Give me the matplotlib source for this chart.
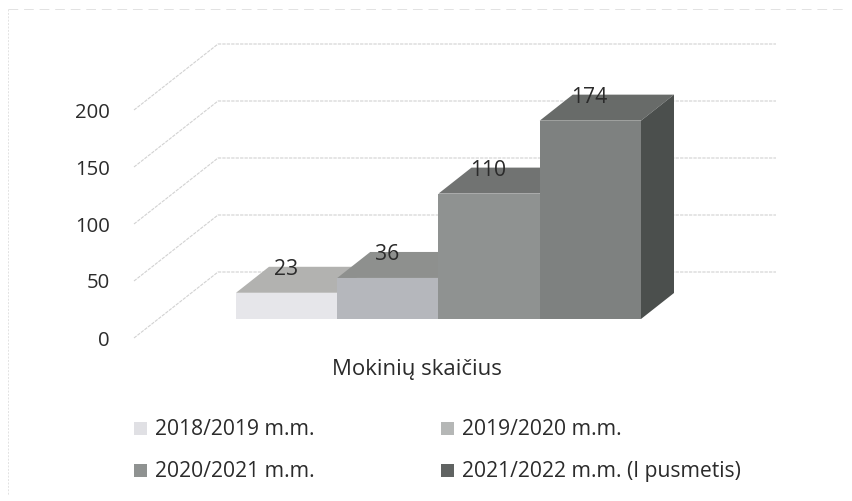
import matplotlib
matplotlib.use("Agg")
import matplotlib.pyplot as plt
from matplotlib.patches import Polygon, Rectangle

plt.rcParams['font.family'] = ['Open Sans', 'DejaVu Sans']

categories = ["2018/2019 m.m.", "2019/2020 m.m.", "2020/2021 m.m.", "2021/2022 m.m. (I pusmetis)"]
values = [23, 36, 110, 174]
y_ticks = [0, 50, 100, 150, 200]
axis_title = "Mokinių skaičius"
front_colors = ["#e6e6ea", "#b5b7bc", "#8f9291", "#7e8180"]
top_colors = ["#b2b2b0", "#8e908e", "#717372", "#686b69"]
side_color = "#4b4f4d"
text_color = "#2b2b2b"
grid_color = "#d2d2d2"

W, H = 853, 501
fig = plt.figure(figsize=(W / 100, H / 100), dpi=100, facecolor="white")
ax = fig.add_axes([0, 0, 1, 1])
ax.set_xlim(0, W)
ax.set_ylim(H, 0)
ax.axis("off")

X0, BAR_W, BASE = 236.0, 101.25, 319.0
PX_PER_UNIT = 1.14
DX, DY = 33.0, -26.0
AXIS_X, AXIS_Y = 134.0, 338.0
WALL_X, WALL_Y, WALL_R = 218.0, 272.0, 776.0

for t in y_ticks:
    dy = t * PX_PER_UNIT
    ax.plot([AXIS_X, WALL_X, WALL_R], [AXIS_Y - dy, WALL_Y - dy, WALL_Y - dy],
            color=grid_color, lw=0.8, ls=(0, (3, 1)), zorder=1)
    ax.text(AXIS_X - 24, AXIS_Y - dy + 2.5, str(t), ha="right", va="center", fontsize=14.6,
            color=text_color, zorder=6)

for i, v in enumerate(values):
    x0 = X0 + i * BAR_W
    x1 = x0 + BAR_W
    top = BASE - v * PX_PER_UNIT
    ax.add_patch(Polygon([(x0, top), (x0 + DX, top + DY), (x1 + DX, top + DY), (x1, top)],
                         closed=True, fc=top_colors[i], ec="none", zorder=2 + i))
    if i == len(values) - 1:
        ax.add_patch(Polygon([(x1, BASE), (x1 + DX, BASE + DY), (x1 + DX, top + DY), (x1, top)],
                             closed=True, fc=side_color, ec="none", zorder=2 + i))
    ax.add_patch(Rectangle((x0, top), BAR_W, v * PX_PER_UNIT, fc=front_colors[i], ec="none", zorder=2 + i))
    ax.text(x0 + BAR_W / 2 - 1, top + DY + 2.5, str(v), ha="center", va="center",
            fontsize=15.2, color=text_color, zorder=7)

ax.text(417, 369, axis_title, ha="center", va="center", fontsize=16, color=text_color)

legend_x = [134, 441, 134, 441]
legend_y = [428, 428, 470, 470]
legend_colors = ["#e0e0e4", "#b5b7b6", "#8f9291", "#606362"]
for name, lx, ly, c in zip(categories, legend_x, legend_y, legend_colors):
    ax.add_patch(Rectangle((lx, ly - 6.5), 13, 13, fc=c, ec="none"))
    ax.text(lx + 21, ly + 1.5, name, ha="left", va="center", fontsize=15.2, color=text_color)

ax.plot([8, 8], [9, 495], color="#e2e2e2", lw=0.7, ls=(0, (2, 1.5)))
ax.plot([8, 845], [9, 9], color="#e2e2e2", lw=0.7, ls=(0, (10, 6)))

fig.savefig("out.png", dpi=100)
